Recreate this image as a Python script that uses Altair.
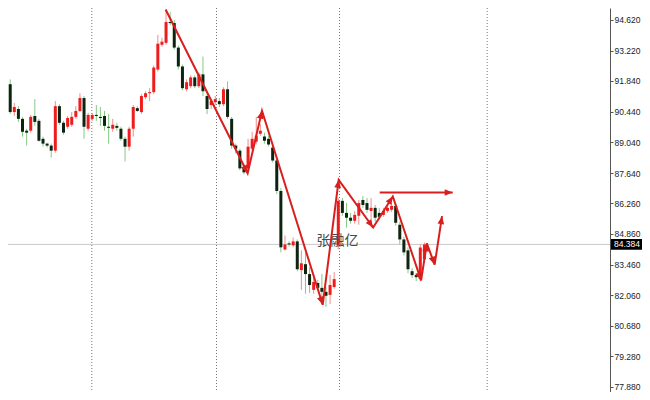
import math
import altair as alt
import pandas as pd

# ---- candle data (bar index -> OHLC) ----
opens = [91.01, 91.69, 90.42, 90.56, 90.11, 89.57, 89.57, 90.24, 90.02, 89.20,
         88.98, 88.89, 88.66, 90.69, 89.93, 89.75, 89.84, 90.20, 90.47, 91.06,
         89.66, 90.11, 90.29, 90.20, 90.24, 89.75, 89.66, 89.79, 89.66, 89.20,
         88.84, 89.66, 90.60, 90.42, 91.10, 91.28, 91.33, 92.36, 93.49, 93.58,
         94.53, 94.48, 93.36, 92.50, 91.46, 91.60, 92.00, 91.60, 92.14, 91.15,
         90.74, 90.87, 90.92, 90.78, 91.46, 90.11, 88.89, 88.66, 87.90, 87.85,
         88.75, 89.07, 89.43, 89.30, 89.20, 88.80, 88.21, 86.82, 84.15, 84.43,
         84.34, 84.52, 83.21, 83.48, 83.03, 82.31, 82.62, 82.40, 82.22, 82.08,
         82.44, 84.34, 86.37, 85.82, 85.60, 85.46, 85.69, 86.41, 86.27, 85.91,
         86.05, 85.82, 85.73, 85.91, 85.96, 86.14, 85.28, 84.61, 84.11, 83.16,
         82.98, 82.80, 83.70]
highs = [92.32, 91.91, 90.83, 90.69, 90.20, 89.66, 90.29, 91.01, 90.11, 89.30,
         89.02, 88.98, 90.92, 90.78, 90.02, 90.24, 90.42, 90.69, 91.28, 91.15,
         90.38, 90.38, 90.74, 90.65, 90.47, 90.33, 90.11, 89.93, 89.75, 89.30,
         89.75, 90.74, 90.69, 91.24, 91.37, 91.51, 92.54, 93.94, 93.81, 95.07,
         94.98, 94.62, 93.45, 92.59, 91.91, 92.09, 92.09, 92.23, 92.95, 91.24,
         91.01, 91.15, 91.06, 91.55, 91.82, 90.20, 88.98, 88.75, 88.03, 89.20,
         89.52, 90.20, 89.88, 89.48, 89.34, 88.94, 88.30, 86.95, 84.79, 84.52,
         84.70, 84.61, 84.11, 84.02, 83.34, 83.03, 82.76, 83.03, 82.44, 82.98,
         83.12, 86.50, 86.50, 86.27, 85.82, 85.91, 86.41, 86.59, 86.50, 86.50,
         86.18, 86.05, 86.05, 86.18, 86.27, 86.27, 85.42, 84.74, 84.25, 83.30,
         83.07, 84.38, 84.47]
lows = [90.92, 90.33, 90.24, 89.97, 89.30, 88.89, 89.48, 89.79, 89.07, 88.84,
        88.80, 88.35, 88.57, 89.84, 89.39, 89.66, 89.75, 90.11, 90.42, 89.20,
        89.57, 90.02, 90.02, 89.79, 89.57, 88.98, 89.52, 89.57, 89.11, 88.17,
        88.66, 89.30, 90.42, 90.33, 91.01, 90.92, 91.24, 92.27, 93.40, 93.49,
        94.39, 93.27, 92.36, 91.42, 91.37, 91.51, 91.51, 91.51, 91.15, 90.33,
        90.56, 90.74, 90.65, 90.69, 90.11, 88.75, 88.53, 87.76, 87.58, 87.76,
        88.66, 88.94, 89.34, 88.98, 88.85, 88.12, 86.68, 84.02, 84.11, 84.29,
        84.25, 83.16, 82.31, 82.13, 82.17, 82.13, 82.31, 81.67, 81.54, 81.67,
        82.35, 84.15, 85.69, 85.15, 85.33, 85.33, 85.28, 86.05, 85.82, 85.15,
        85.42, 85.51, 85.64, 85.82, 85.87, 85.24, 84.38, 83.88, 83.07, 82.85,
        82.71, 82.71, 83.57]
closes = [91.64, 90.42, 90.65, 90.11, 89.52, 89.48, 90.20, 89.97, 89.11, 88.98,
          88.89, 88.66, 90.69, 89.93, 89.48, 90.15, 90.20, 90.47, 91.06, 89.75,
          90.29, 90.29, 90.24, 90.15, 89.79, 89.70, 89.84, 89.70, 89.20, 88.84,
          89.66, 90.65, 90.47, 91.15, 91.28, 91.33, 92.45, 93.54, 93.63, 94.53,
          94.48, 93.36, 92.50, 91.51, 91.78, 92.00, 91.60, 92.14, 91.37, 90.56,
          90.92, 91.01, 90.78, 91.46, 90.20, 88.89, 88.75, 87.85, 87.67, 88.84,
          89.20, 89.34, 89.57, 89.11, 88.94, 88.21, 86.82, 84.25, 84.38, 84.38,
          84.52, 83.25, 83.52, 83.03, 82.53, 82.67, 82.40, 82.22, 82.04, 82.53,
          82.80, 86.37, 85.82, 85.60, 85.46, 85.73, 86.27, 86.18, 85.96, 86.05,
          85.60, 85.64, 85.91, 86.05, 86.14, 85.37, 84.61, 84.02, 83.25, 82.98,
          82.89, 84.24, 84.38]

y_ticks = [94.62, 93.22, 91.84, 90.44, 89.04, 87.64, 86.26, 84.86, 83.46,
           82.06, 80.68, 79.28, 77.88]
last_price = 84.384
last_label = "84.384"
separators = [20.9, 51.3, 81.3, 117.3]

zig_x = [38.9, 58.9, 62.4, 77.2, 81.1, 89.5, 94.3, 101.2, 102.6, 104.5, 106.3]
zig_y = [95.10, 87.63, 90.48, 81.63, 87.33, 85.15, 86.57, 82.74, 84.43, 83.46, 85.67]
hline_x = [91.1, 108.9]
hline_y = [86.75, 86.75]
watermark = "张融亿"
watermark_pos = (80.8, 84.52)

# ---- layout ----
W, H = 602, 384
X_DOM = [1.68, 146.04]
Y_DOM = [77.65, 95.167]
kx = W / (X_DOM[1] - X_DOM[0])
ky = H / (Y_DOM[1] - Y_DOM[0])

UP_BODY, DOWN_BODY = "#EE1C1C", "#0C2410"
UP_WICK, DOWN_WICK = "#F08C8C", "#86C986"
ARROW = "#D91E1E"

candles = pd.DataFrame({
    "i": list(range(len(opens))),
    "o": opens, "h": highs, "l": lows, "c": closes,
})
candles["body"] = ["up_body" if c >= o else "down_body" for o, c in zip(opens, closes)]
candles["wick"] = ["up_wick" if c >= o else "down_wick" for o, c in zip(opens, closes)]

color_scale = alt.Scale(domain=["up_body", "down_body", "up_wick", "down_wick"],
                        range=[UP_BODY, DOWN_BODY, UP_WICK, DOWN_WICK])

xs = alt.Scale(domain=X_DOM, nice=False, zero=False)
ys = alt.Scale(domain=Y_DOM, nice=False, zero=False)

y_axis = alt.Axis(orient="right", values=y_ticks, format=".3f", title=None,
                  labelFont="Liberation Sans", labelFontSize=8.5, labelColor="#222222",
                  tickSize=3, tickColor="#555555", domainColor="#555555",
                  labelPadding=1, grid=False, labelOverlap=False)


def Y(field):
    return alt.Y(field, scale=ys, axis=y_axis)


def X(field):
    return alt.X(field, scale=xs, axis=None)


base = alt.Chart(candles)

wicks = base.mark_rule(strokeWidth=1, clip=True).encode(
    x=X("i:Q"), y=Y("l:Q"), y2="h:Q",
    color=alt.Color("wick:N", scale=color_scale, legend=None),
)
bodies = base.mark_bar(size=3, clip=True).encode(
    x=X("i:Q"), y=Y("o:Q"), y2="c:Q",
    color=alt.Color("body:N", scale=color_scale, legend=None),
)

sep_df = pd.DataFrame({"sx": separators})
seps = alt.Chart(sep_df).mark_rule(color="#777777", strokeWidth=1, strokeDash=[1, 2]).encode(
    x=X("sx:Q")
)

price_df = pd.DataFrame({"p": [last_price], "p_hi": [last_price + 0.245],
                         "p_lo": [last_price - 0.245], "t": [last_label]})
price_line = alt.Chart(price_df).mark_rule(color="#C8C8C8", strokeWidth=1).encode(
    y=Y("p:Q")
)
price_box = alt.Chart(price_df).mark_rect(color="#000000", clip=False).encode(
    x=alt.value(W + 1), x2=alt.value(W + 40),
    y=Y("p_hi:Q"), y2="p_lo:Q",
)
price_text = alt.Chart(price_df).mark_text(
    align="left", baseline="middle", color="#FFFFFF", font="Liberation Sans",
    fontSize=8.5, clip=False
).encode(x=alt.value(W + 4), y=Y("p:Q"), text="t:N")

wm_df = pd.DataFrame({"x": [watermark_pos[0]], "y": [watermark_pos[1]], "t": [watermark]})
wm = alt.Chart(wm_df).mark_text(font="Noto Sans CJK SC", fontSize=14, color="#4A4A4A",
                                align="center", baseline="middle").encode(
    x=X("x:Q"), y=Y("y:Q"), text="t:N")

# arrows
rows = []
for k, (px, py) in enumerate(zip(zig_x, zig_y)):
    rows.append({"x": px, "y": py, "g": "zig", "o": k})
for k, (px, py) in enumerate(zip(hline_x, hline_y)):
    rows.append({"x": px, "y": py, "g": "hor", "o": k})
arrow_df = pd.DataFrame(rows)
arrow_lines = alt.Chart(arrow_df).mark_line(color=ARROW, strokeWidth=2, clip=True).encode(
    x=X("x:Q"), y=Y("y:Q"), detail="g:N", order="o:Q")


def heading(ax, ay, bx, by):
    dx = (bx - ax) * kx
    dy = -(by - ay) * ky  # screen y grows downward
    return math.degrees(math.atan2(dx, -dy)) % 360


heads = []
for k in range(1, len(zig_x)):
    heads.append({"x": zig_x[k], "y": zig_y[k],
                  "a": heading(zig_x[k - 1], zig_y[k - 1], zig_x[k], zig_y[k])})
heads.append({"x": hline_x[1], "y": hline_y[1],
              "a": heading(hline_x[0], hline_y[0], hline_x[1], hline_y[1])})
head_df = pd.DataFrame(heads)
arrow_heads = alt.Chart(head_df).mark_point(
    shape="M0,0L-0.42,1L0.42,1Z", filled=True, size=256, color=ARROW,
    opacity=1, strokeWidth=0, clip=True
).encode(x=X("x:Q"), y=Y("y:Q"), angle=alt.Angle("a:Q", scale=None))

chart = alt.layer(
    seps, price_line, wicks, bodies, wm, arrow_lines, arrow_heads, price_box, price_text
).properties(
    width=W, height=H,
    autosize=alt.AutoSizeParams(type="none"),
    padding={"left": 0, "top": 0, "right": 32, "bottom": 0},
    background="#FFFFFF",
).configure_view(stroke=None)

chart.save("out.html", embed_options={"renderer": "svg", "actions": False})
